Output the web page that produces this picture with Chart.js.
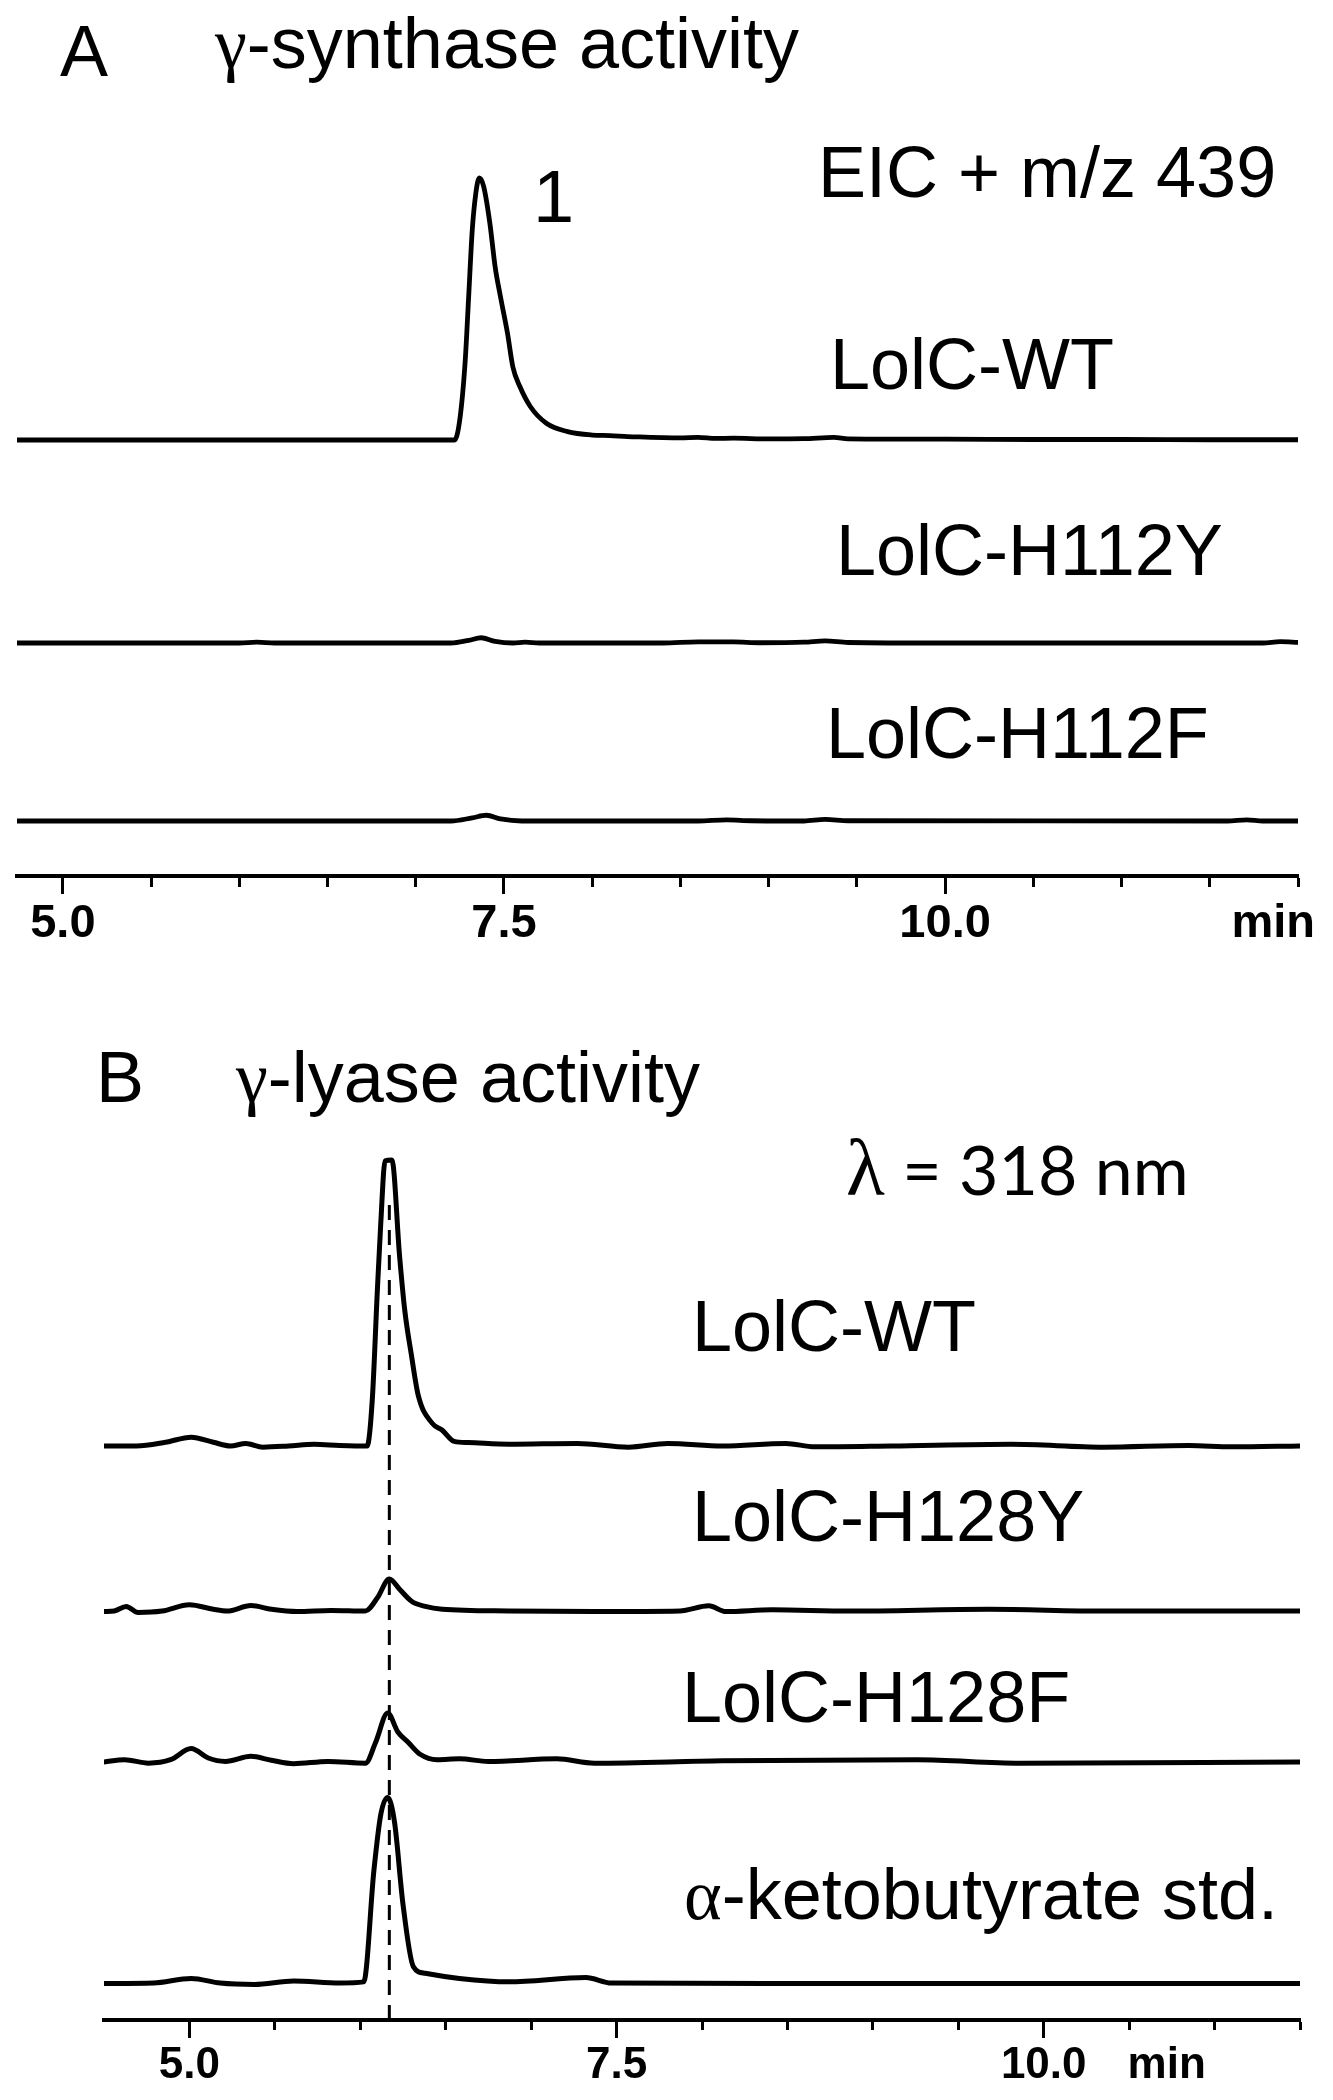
<!DOCTYPE html>
<html>
<head>
<meta charset="utf-8">
<title>LolC activity chromatograms</title>
<script src="https://cdn.jsdelivr.net/npm/chart.js@4.4.1/dist/chart.umd.min.js"></script>
<style>
  body { margin: 0; background: #fff; width: 1333px; height: 2100px; position: relative; overflow: hidden; }
  canvas { position: absolute; left: 0; }
  .lbl { position: absolute; white-space: nowrap; color: #000; line-height: 1;
         font-family: "Liberation Sans", Arial, sans-serif; font-size: 72px; }
  .gk { font-family: "Liberation Serif", "DejaVu Serif", serif; }
</style>
</head>
<body>
<canvas id="chartA" width="1333" height="960" style="top:0"></canvas>
<canvas id="chartB" width="1333" height="1140" style="top:960px"></canvas>

<script>
// ---- data: retention time (min) + relative intensity (WT peak = 100) ----

// Panel A : EIC + m/z 439
const timeA_WT = [4.74, 6.0, 7.0, 7.22, 7.25, 7.28, 7.30, 7.32, 7.34, 7.36, 7.385, 7.42, 7.45, 7.48, 7.52, 7.55, 7.59, 7.65, 7.74, 7.86, 8.0, 8.1, 8.2, 8.3, 8.4, 8.5, 8.6, 8.7, 8.8, 9.0, 9.2, 9.37, 9.45, 9.7, 10.0, 10.5, 11.0, 11.5, 12.0];
const intA_WT  = [0, 0, 0, 0, 8, 30, 55, 80, 94, 100, 96.7, 82.7, 66, 54.7, 40.7, 28, 20.4, 12.7, 6.4, 3.2, 1.9, 1.7, 1.3, 1.1, 0.9, 0.8, 1.0, 0.6, 0.7, 0.4, 0.5, 1.0, 0.4, 0.3, 0.3, 0.2, 0.2, 0.1, 0.1];

const timeA_H112Y = [4.74, 6.0, 6.1, 6.2, 7.2, 7.3, 7.37, 7.45, 7.55, 7.62, 7.7, 8.4, 8.6, 8.8, 8.95, 9.2, 9.32, 9.45, 10.0, 11.8, 11.9, 12.0];
const intA_H112Y  = [0, 0, 0.3, 0, 0, 1.0, 2.0, 0.6, 0, 0.3, 0, 0, 0.4, 0.4, 0.1, 0.3, 0.8, 0.2, 0, 0, 0.5, 0.2];

const timeA_H112F = [4.74, 7.2, 7.32, 7.40, 7.48, 7.6, 8.6, 8.76, 8.9, 9.2, 9.32, 9.45, 11.6, 11.71, 11.8, 12.0];
const intA_H112F  = [0, 0, 1.2, 2.2, 0.8, 0, 0, 0.4, 0.1, 0, 0.6, 0.1, 0, 0.4, 0, 0];

// Panel B : UV 318 nm
const timeB_WT = [4.5, 4.69, 4.86, 5.01, 5.14, 5.24, 5.33, 5.43, 5.58, 5.73, 5.88, 6.04, 6.07, 6.10, 6.12, 6.145, 6.185, 6.23, 6.26, 6.30, 6.34, 6.42, 6.48, 6.55, 6.63, 6.87, 7.27, 7.57, 7.8, 8.12, 8.49, 8.66, 9.11, 9.81, 10.35, 10.85, 11.1, 11.5];
const intB_WT  = [0, 0, 1.3, 3.1, 1.3, 0, 0.9, -0.4, 0, 0.6, 0.2, 0, 16, 54.5, 78, 99.7, 100, 66.4, 47.6, 31.5, 17.5, 8, 5.5, 1.6, 1.2, 0.6, 0.9, -0.4, 0.9, 0, 0.9, -0.3, 0, 0.6, -0.4, 0.2, -0.3, 0];

const timeB_H128Y = [4.5, 4.56, 4.63, 4.7, 4.84, 5.0, 5.14, 5.22, 5.36, 5.48, 5.63, 5.83, 6.03, 6.1, 6.17, 6.23, 6.3, 6.38, 6.48, 6.87, 7.37, 7.87, 8.04, 8.14, 8.41, 8.86, 9.68, 10.35, 11.5];
const intB_H128Y  = [-0.2, 0, 1.6, -0.5, 0, 2.2, 0.6, 0, 1.9, 0.6, -0.2, 0.2, 0, 4.6, 11.2, 7.6, 3.4, 1.6, 0.6, 0, -0.2, 0, 1.8, -0.2, 0.4, 0, 0.6, 0, 0];

const timeB_H128F = [4.5, 4.62, 4.76, 4.89, 5.01, 5.11, 5.21, 5.36, 5.48, 5.61, 5.81, 6.03, 6.09, 6.16, 6.22, 6.28, 6.35, 6.45, 6.58, 6.75, 7.15, 7.37, 8.12, 9.26, 9.86, 11.5];
const intB_H128F  = [0, 0.8, -0.4, 0.8, 4.7, 1.4, 0.2, 2.0, 0.6, -0.6, 0.2, -0.4, 6.9, 17.1, 10.5, 6.9, 2.7, 0.8, 1.1, 0.2, 1.1, -0.4, 0.4, 0.8, -0.4, 0];

const timeB_Std = [4.5, 4.79, 5.01, 5.18, 5.38, 5.61, 5.88, 6.02, 6.08, 6.12, 6.16, 6.2, 6.25, 6.31, 6.38, 6.58, 6.87, 7.32, 7.47, 8.37, 10.35, 11.5];
const intB_Std  = [-0.2, 0, 1.6, 0, -0.5, 0.7, 0, 0.4, 39.5, 58.9, 64.9, 56.4, 27.5, 5.8, 3.4, 1.6, 0.4, 1.9, 0, -0.2, -0.2, -0.2];

// retention time of alpha-ketobutyrate (dashed guide line)
const ketoTime = 6.17;

// axis ticks
const minorStep = 0.5;
const majorTicks = [5.0, 7.5, 10.0];
const majorLabels = ["5.0", "7.5", "10.0"];
const unitLabel = "min";

// ---- layout (pixels) ----
const LAYOUT = {
  A: { h: 960, axisH: 84, padL: 17, padR: 35, xMin: 4.74, xMax: 12.0, lastTick: 12.0, unitAt: 11.86,
       font: 47, labelPad: 2, minorLen: 9, gain: 2.62, lw: 4.8,
       base: { WT: 436, Y: 233, F: 55 } },
  B: { h: 1140, axisH: 80, padL: 104, padR: 33, xMin: 4.5, xMax: 11.5, lastTick: 11.5, unitAt: 10.72,
       font: 44, labelPad: 1, minorLen: 8, gain: 2.86, lw: 5,
       base: { WT: 574, Y: 409, F: 258, S: 37 } },
};

const TEXTS = [
  { html: "A", x: 60, base: 76 },
  { html: '<span class="gk">γ</span>-synthase activity', x: 215, base: 68 },
  { html: "EIC + m/z 439", x: 818, base: 197 },
  { html: "1", x: 533, base: 223, size: 74 },
  { html: "LolC-WT", x: 830, base: 389 },
  { html: "LolC-H112Y", x: 836, base: 575 },
  { html: "LolC-H112F", x: 826, base: 758 },
  { html: "B", x: 96, base: 1102 },
  { html: '<span class="gk">γ</span>-lyase activity', x: 236, base: 1102 },
  { html: '<span class="gk" style="font-size:80px">λ</span> = 318 nm', x: 846, base: 1188, size: 68, family: "Lato", asc: 0.887 },
  { html: "LolC-WT", x: 692, base: 1351 },
  { html: "LolC-H128Y", x: 692, base: 1541 },
  { html: "LolC-H128F", x: 682, base: 1722 },
  { html: '<span class="gk">α</span>-ketobutyrate std.', x: 684, base: 1919 },
];

// ---- helpers ----

function trace(times, values, base, gain) {
  return times.map((t, i) => ({ x: t, y: base + values[i] * gain }));
}

function lineSet(data, width, extra = {}) {
  return {
    data,
    borderColor: "#000",
    borderWidth: width,
    pointRadius: 0,
    fill: false,
    cubicInterpolationMode: "monotone",
    borderJoinStyle: "round",
    borderCapStyle: "round",
    ...extra,
  };
}

function tickValues(L) {
  const out = [];
  for (let v = 5.0; v <= L.lastTick + 1e-9; v += minorStep) out.push(Math.round(v * 10) / 10);
  out.push(L.unitAt);
  return out.sort((a, b) => a - b);
}

function makeOptions(L) {
  const isMajor = (v) => majorTicks.some((m) => Math.abs(m - v) < 1e-6);
  const isUnit = (v) => Math.abs(v - L.unitAt) < 1e-6;
  return {
    responsive: false,
    animation: false,
    devicePixelRatio: 1,
    layout: { padding: { left: L.padL, right: L.padR, top: 0, bottom: 0 } },
    plugins: { legend: { display: false }, tooltip: { enabled: false } },
    scales: {
      x: {
        type: "linear",
        min: L.xMin,
        max: L.xMax,
        afterBuildTicks: (s) => { s.ticks = tickValues(L).map((v) => ({ value: v })); },
        afterFit: (s) => { s.height = L.axisH; },
        border: { display: true, color: "#000", width: 4 },
        grid: {
          drawOnChartArea: false,
          drawTicks: true,
          tickLength: 18,
          tickWidth: 3,
          tickColor: (c) => (c.tick && isUnit(c.tick.value) ? "rgba(0,0,0,0)" : "#000"),
          tickBorderDash: (c) => (c.tick && isMajor(c.tick.value) ? [] : [L.minorLen, 60]),
        },
        ticks: {
          autoSkip: false,
          maxRotation: 0,
          padding: L.labelPad,
          color: "#000",
          font: { family: "'Liberation Sans', Arial, sans-serif", size: L.font, weight: "bold" },
          callback: (v) => {
            if (isUnit(v)) return unitLabel;
            const i = majorTicks.findIndex((m) => Math.abs(m - v) < 1e-6);
            return i >= 0 ? majorLabels[i] : "";
          },
        },
      },
      y: { display: false, min: 0, max: L.h - L.axisH },
    },
  };
}

// ---- charts ----

const LA = LAYOUT.A;
new Chart(document.getElementById("chartA"), {
  type: "line",
  data: {
    datasets: [
      lineSet(trace(timeA_WT, intA_WT, LA.base.WT, LA.gain), LA.lw),
      lineSet(trace(timeA_H112Y, intA_H112Y, LA.base.Y, LA.gain), LA.lw),
      lineSet(trace(timeA_H112F, intA_H112F, LA.base.F, LA.gain), LA.lw),
    ],
  },
  options: makeOptions(LA),
});

const LB = LAYOUT.B;
new Chart(document.getElementById("chartB"), {
  type: "line",
  data: {
    datasets: [
      lineSet(trace(timeB_WT, intB_WT, LB.base.WT, LB.gain), LB.lw),
      lineSet(trace(timeB_H128Y, intB_H128Y, LB.base.Y, LB.gain), LB.lw),
      lineSet(trace(timeB_H128F, intB_H128F, LB.base.F, LB.gain), LB.lw),
      lineSet(trace(timeB_Std, intB_Std, LB.base.S, LB.gain), LB.lw),
      // dashed guide from the axis up into the WT peak
      lineSet([{ x: ketoTime, y: 0 }, { x: ketoTime, y: LB.base.WT + 85 * LB.gain }], 3,
        { borderDash: [15, 10], borderCapStyle: "butt", cubicInterpolationMode: "default" }),
    ],
  },
  options: makeOptions(LB),
});

// ---- text annotations (html, positioned by baseline) ----
for (const t of TEXTS) {
  const size = t.size || 72;
  const asc = t.asc || 0.8465;
  const d = document.createElement("div");
  d.className = "lbl";
  d.innerHTML = t.html;
  d.style.left = t.x + "px";
  d.style.top = (t.base - asc * size) + "px";
  d.style.fontSize = size + "px";
  if (t.family) d.style.fontFamily = `"${t.family}", "Liberation Sans", sans-serif`;
  document.body.appendChild(d);
}
</script>
</body>
</html>
